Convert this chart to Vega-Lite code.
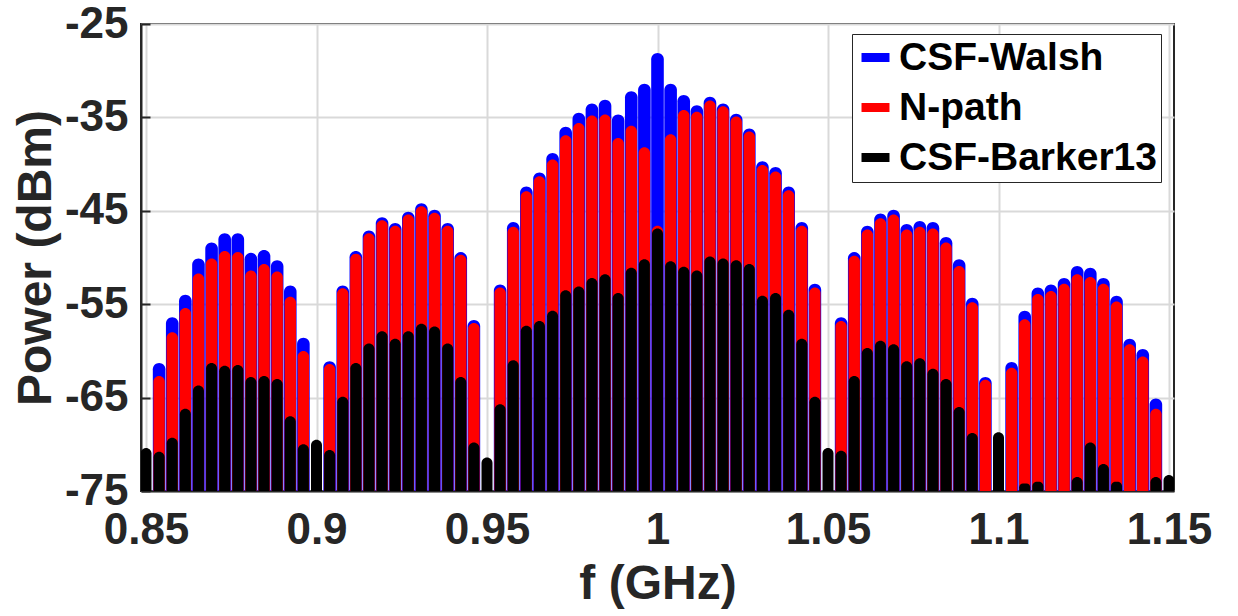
{
  "$schema": "https://vega.github.io/schema/vega-lite/v6.json",
  "width": 1033,
  "height": 467,
  "autosize": "none",
  "padding": {"left": 141, "top": 24, "right": 64, "bottom": 125},
  "background": "white",
  "config": {
    "font": "Liberation Sans",
    "view": {"stroke": "#262626", "strokeWidth": 2},
    "axis": {
      "labelFont": "Liberation Sans", "labelFontSize": 44, "labelFontWeight": "bold", "labelColor": "#262626",
      "titleFont": "Liberation Sans", "titleFontSize": 48, "titleFontWeight": "bold", "titleColor": "#262626",
      "gridColor": "#d9d9d9", "gridWidth": 2, "gridOpacity": 1,
      "domainColor": "#262626", "domainWidth": 2,
      "tickColor": "#262626", "tickWidth": 2, "tickSize": -9
    },
    "legend": {
      "labelFont": "Liberation Sans", "labelFontSize": 39, "labelFontWeight": "bold", "labelColor": "black", "labelLimit": 0,
      "strokeColor": "#262626", "fillColor": "white", "padding": 4, "rowPadding": 10, "labelOffset": 4,
      "symbolType": "M-1,-0.32H1V0.32H-1Z", "symbolSize": 784, "symbolStrokeWidth": 0, "symbolOpacity": 1
    }
  },
  "data": {"values": [
    {"f": 0.85, "b": -70.4},
    {"f": 0.853846, "w": -61.3, "n": -62.7, "b": -70.8},
    {"f": 0.857692, "w": -56.4, "n": -58.0, "b": -69.3},
    {"f": 0.861538, "w": -54.0, "n": -55.4, "b": -66.2},
    {"f": 0.865385, "w": -50.1, "n": -51.7, "b": -63.7},
    {"f": 0.869231, "w": -48.4, "n": -50.1, "b": -61.3},
    {"f": 0.873077, "w": -47.4, "n": -49.3, "b": -61.6},
    {"f": 0.876923, "w": -47.4, "n": -49.4, "b": -61.5},
    {"f": 0.880769, "w": -49.5, "n": -51.4, "b": -62.8},
    {"f": 0.884615, "w": -49.2, "n": -50.7, "b": -62.7},
    {"f": 0.888462, "w": -50.3, "n": -51.5, "b": -63.0},
    {"f": 0.892308, "w": -53.0, "n": -54.2, "b": -67.0},
    {"f": 0.896154, "w": -58.6, "n": -60.0, "b": -70.0},
    {"f": 0.9, "b": -69.5},
    {"f": 0.903846, "w": -61.1, "n": -61.4, "b": -70.6},
    {"f": 0.907692, "w": -53.0, "n": -53.3, "b": -64.9},
    {"f": 0.911538, "w": -49.3, "n": -49.6, "b": -61.3},
    {"f": 0.915385, "w": -47.1, "n": -47.4, "b": -59.2},
    {"f": 0.919231, "w": -45.7, "n": -46.0, "b": -57.9},
    {"f": 0.923077, "w": -46.3, "n": -46.6, "b": -58.7},
    {"f": 0.926923, "w": -45.1, "n": -45.4, "b": -57.9},
    {"f": 0.930769, "w": -44.2, "n": -44.5, "b": -57.1},
    {"f": 0.934615, "w": -44.9, "n": -45.2, "b": -57.4},
    {"f": 0.938462, "w": -46.3, "n": -46.6, "b": -59.2},
    {"f": 0.942308, "w": -49.4, "n": -49.7, "b": -62.8},
    {"f": 0.946154, "w": -56.7, "n": -57.0, "b": -69.8},
    {"f": 0.95, "b": -71.4},
    {"f": 0.953846, "w": -52.9, "n": -53.2, "b": -65.7},
    {"f": 0.957692, "w": -46.2, "n": -46.7, "b": -61.0},
    {"f": 0.961538, "w": -42.4, "n": -42.9, "b": -57.3},
    {"f": 0.965385, "w": -40.9, "n": -41.3, "b": -56.8},
    {"f": 0.969231, "w": -38.8, "n": -39.5, "b": -55.7},
    {"f": 0.973077, "w": -36.0, "n": -36.9, "b": -53.5},
    {"f": 0.976923, "w": -34.5, "n": -35.6, "b": -53.1},
    {"f": 0.980769, "w": -33.5, "n": -34.8, "b": -52.2},
    {"f": 0.984615, "w": -33.1, "n": -34.7, "b": -51.8},
    {"f": 0.988462, "w": -34.7, "n": -37.2, "b": -53.8},
    {"f": 0.992308, "w": -32.2, "n": -35.9, "b": -51.1},
    {"f": 0.996154, "w": -31.4, "n": -38.2, "b": -50.2},
    {"f": 1.0, "w": -28.1, "n": -46.6, "b": -46.9},
    {"f": 1.003846, "w": -31.4, "n": -36.8, "b": -50.4},
    {"f": 1.007692, "w": -32.6, "n": -34.2, "b": -51.0},
    {"f": 1.011538, "w": -33.7, "n": -34.4, "b": -51.4},
    {"f": 1.015385, "w": -32.8, "n": -33.2, "b": -49.9},
    {"f": 1.019231, "w": -33.5, "n": -33.8, "b": -50.1},
    {"f": 1.023077, "w": -34.6, "n": -34.9, "b": -50.3},
    {"f": 1.026923, "w": -36.2, "n": -36.5, "b": -50.7},
    {"f": 1.030769, "w": -39.7, "n": -40.1, "b": -54.1},
    {"f": 1.034615, "w": -40.3, "n": -40.8, "b": -53.8},
    {"f": 1.038462, "w": -42.4, "n": -42.8, "b": -55.6},
    {"f": 1.042308, "w": -46.2, "n": -46.6, "b": -58.7},
    {"f": 1.046154, "w": -52.8, "n": -53.2, "b": -64.9},
    {"f": 1.05, "b": -70.4},
    {"f": 1.053846, "w": -56.4, "n": -56.8, "b": -70.7},
    {"f": 1.057692, "w": -49.4, "n": -49.8, "b": -62.7},
    {"f": 1.061538, "w": -46.6, "n": -47.0, "b": -59.7},
    {"f": 1.065385, "w": -45.3, "n": -45.8, "b": -58.9},
    {"f": 1.069231, "w": -44.9, "n": -45.4, "b": -59.3},
    {"f": 1.073077, "w": -46.4, "n": -47.0, "b": -61.1},
    {"f": 1.076923, "w": -46.1, "n": -46.7, "b": -60.8},
    {"f": 1.080769, "w": -46.2, "n": -46.9, "b": -61.9},
    {"f": 1.084615, "w": -47.8, "n": -48.4, "b": -63.0},
    {"f": 1.088462, "w": -50.2, "n": -50.9, "b": -66.0},
    {"f": 1.092308, "w": -54.3, "n": -54.8, "b": -68.8},
    {"f": 1.096154, "w": -62.8, "n": -63.1},
    {"f": 1.1, "b": -68.7},
    {"f": 1.103846, "w": -61.2, "n": -61.8},
    {"f": 1.107692, "w": -55.7, "n": -56.6, "b": -74.2},
    {"f": 1.111538, "w": -53.2, "n": -53.9, "b": -74.0},
    {"f": 1.115385, "w": -52.9, "n": -53.6},
    {"f": 1.119231, "w": -52.2, "n": -52.8},
    {"f": 1.123077, "w": -50.9, "n": -51.8, "b": -73.5},
    {"f": 1.126923, "w": -51.1, "n": -52.1, "b": -69.8},
    {"f": 1.130769, "w": -52.2, "n": -52.8, "b": -72.1},
    {"f": 1.134615, "w": -54.1, "n": -54.7, "b": -74.0},
    {"f": 1.138462, "w": -58.7, "n": -59.3},
    {"f": 1.142308, "w": -59.8, "n": -60.6},
    {"f": 1.146154, "w": -65.1, "n": -66.2, "b": -73.5},
    {"f": 1.15, "b": -73.3}
  ]},
  "encoding": {
    "x": {
      "field": "f", "type": "quantitative",
      "scale": {"domain": [0.85, 1.15], "nice": false, "zero": false},
      "axis": {"title": "f (GHz)", "values": [0.85, 0.9, 0.95, 1, 1.05, 1.1, 1.15], "format": "~g", "labelPadding": 26, "titlePadding": 8, "labelFlush": false}
    }
  },
  "layer": [
    {
      "mark": {"type": "bar", "width": 12.6, "cornerRadiusTopLeft": 6.3, "cornerRadiusTopRight": 6.3, "clip": true},
      "encoding": {
        "y": {"field": "w", "type": "quantitative",
          "scale": {"domain": [-75, -25], "nice": false, "zero": false},
          "axis": {"title": "Power (dBm)", "values": [-75, -65, -55, -45, -35, -25], "labelExpr": "'' + datum.value", "labelPadding": 22, "titlePadding": 4}},
        "y2": {"datum": -75},
        "color": {"datum": "CSF-Walsh", "type": "nominal",
          "scale": {"domain": ["CSF-Walsh", "N-path", "CSF-Barker13"], "range": ["#0000ff", "#ff0000", "#000000"]},
          "legend": {"title": null, "orient": "none", "legendX": 711, "legendY": 10}}
      }
    },
    {
      "mark": {"type": "bar", "width": 11.4, "cornerRadiusTopLeft": 5.7, "cornerRadiusTopRight": 5.7, "clip": true},
      "encoding": {
        "y": {"field": "n", "type": "quantitative"},
        "y2": {"datum": -75},
        "color": {"datum": "N-path", "type": "nominal"}
      }
    },
    {
      "mark": {"type": "bar", "width": 11, "cornerRadiusTopLeft": 5.5, "cornerRadiusTopRight": 5.5, "clip": true},
      "encoding": {
        "y": {"field": "b", "type": "quantitative"},
        "y2": {"datum": -75},
        "color": {"datum": "CSF-Barker13", "type": "nominal"}
      }
    }
  ]
}
